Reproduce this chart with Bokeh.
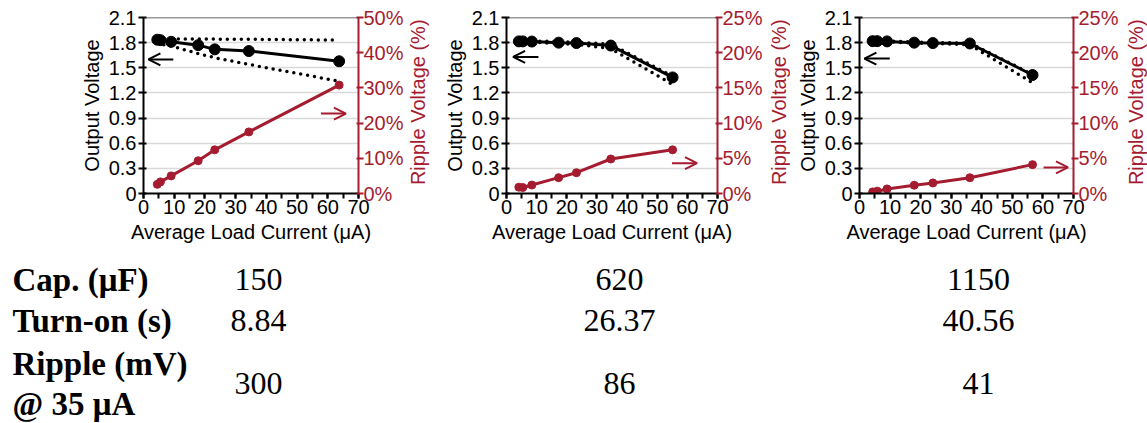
import math
from bokeh.plotting import figure
from bokeh.models import (Range1d, LinearAxis, FixedTicker, PrintfTickFormatter,
                          Arrow, OpenHead, Span)
from bokeh.layouts import column, row
from bokeh.embed import file_html
from bokeh.resources import INLINE
from bokeh.core.properties import value

RED = "#a51c30"
FONT = "Liberation Sans"
SERIF = "Liberation Serif"

# ---------------- data ----------------
v_ticks = [0, 0.3, 0.6, 0.9, 1.2, 1.5, 1.8, 2.1]
x_ticks = [0, 10, 20, 30, 40, 50, 60, 70]
x_minor = [0, 5, 10, 15, 20, 25, 30, 35, 40, 45, 50, 55, 60, 65, 70]

# 150 uF
current_150 = [4.5, 5.5, 9.0, 17.8, 23.2, 34.3, 63.7]
vout_150 = [1.835, 1.83, 1.81, 1.77, 1.72, 1.70, 1.578]
vmax_150 = [1.85, 1.848, 1.845, 1.843, 1.842, 1.84, 1.83]
vmin_150 = [1.80, 1.78, 1.76, 1.67, 1.62, 1.54, 1.34]
ripple_150 = [2.6, 3.3, 5.0, 9.3, 12.4, 17.5, 30.8]
rticks_150 = [0, 10, 20, 30, 40, 50]

# 620 uF
current_620 = [4.1, 5.4, 8.4, 17.3, 23.2, 34.6, 55.1]
vout_620 = [1.815, 1.815, 1.813, 1.800, 1.795, 1.765, 1.385]
vmax_620 = [1.822, 1.822, 1.82, 1.812, 1.806, 1.78, 1.40]
vmin_620 = [1.808, 1.808, 1.805, 1.79, 1.78, 1.73, 1.30]
ripple_620 = [0.9, 0.85, 1.2, 2.25, 2.95, 4.9, 6.2]
rticks_620 = [0, 5, 10, 15, 20, 25]

# 1150 uF
current_1150 = [4.3, 5.8, 9.0, 17.9, 24.0, 36.1, 56.6]
vout_1150 = [1.818, 1.818, 1.815, 1.80, 1.795, 1.79, 1.414]
vmax_1150 = [1.822, 1.822, 1.82, 1.808, 1.80, 1.795, 1.42]
vmin_1150 = [1.814, 1.814, 1.81, 1.795, 1.79, 1.775, 1.32]
ripple_1150 = [0.23, 0.33, 0.65, 1.17, 1.5, 2.24, 4.1]
rticks_1150 = [0, 5, 10, 15, 20, 25]

# arrow annotations: (x_from, x_to, y)
varrow_150 = (9.7, 1.6, 1.60)
rarrow_150 = (57.8, 65.9, 22.7)
varrow_620 = (10.6, 2.2, 1.63)
rarrow_620 = (54.9, 63.2, 4.3)
varrow_1150 = (9.9, 1.6, 1.61)
rarrow_1150 = (60.2, 68.2, 3.7)

y_label = "Output Voltage"
x_label = "Average Load Current (\u03bcA)"
r_label = "Ripple Voltage (%)"

# table
row_labels = ["Cap. (\u03bcF)", "Turn-on (s)", "Ripple (mV)", "@ 35 \u03bcA"]
cap_values = ["150", "620", "1150"]
turnon_values = ["8.84", "26.37", "40.56"]
ripple_mv_values = ["300", "86", "41"]

TICK_SIZE = "20px"
PANEL_H = 245


def make_panel(x, v, vmax, vmin, r, rticks, varrow, rarrow, width, left, right):
    p = figure(width=width, height=PANEL_H, x_range=Range1d(0, 70), y_range=Range1d(0, 2.1),
               output_backend="svg", toolbar_location=None, title=None,
               min_border_left=left, min_border_right=right,
               min_border_top=17, min_border_bottom=0)
    p.outline_line_color = None
    p.background_fill_color = "white"
    p.border_fill_color = "white"
    p.xgrid.grid_line_color = None
    p.ygrid.grid_line_color = "#d9d9d9"
    p.ygrid.grid_line_width = 1.5
    p.ygrid.ticker = FixedTicker(ticks=v_ticks)
    p.add_layout(Span(location=v_ticks[-1], dimension="width", line_color="#333333",
                      line_width=1.5))

    p.extra_y_ranges = {"ripple": Range1d(0, rticks[-1])}

    ya = p.yaxis[0]
    ya.ticker = FixedTicker(ticks=v_ticks)
    ya.major_label_overrides = {0: "0"}
    ya.axis_label = y_label
    ya.minor_tick_line_color = None
    ya.major_tick_in = 3
    ya.major_tick_out = 5
    ya.major_label_standoff = 2
    ya.axis_label_standoff = 3

    xa = p.xaxis[0]
    xa.ticker = FixedTicker(ticks=x_ticks, minor_ticks=x_minor)
    xa.axis_label = x_label
    xa.major_tick_in = 0
    xa.major_tick_out = 5
    xa.minor_tick_in = 0
    xa.minor_tick_out = 5
    xa.major_label_standoff = 1
    xa.axis_label_standoff = 4

    ra = LinearAxis(y_range_name="ripple", ticker=FixedTicker(ticks=rticks),
                    formatter=PrintfTickFormatter(format="%d%%"))
    ra.minor_tick_line_color = None
    ra.major_tick_in = 2
    ra.major_tick_out = 5
    ra.major_label_standoff = 0
    ra.axis_line_color = RED
    ra.major_tick_line_color = RED
    ra.major_label_text_color = RED
    p.add_layout(ra, "right")

    for ax in (ya, xa, ra):
        ax.axis_line_width = 2
        ax.major_tick_line_width = 2
        ax.minor_tick_line_width = 2
        ax.major_label_text_font = FONT
        ax.major_label_text_font_size = TICK_SIZE
        ax.axis_label_text_font = FONT
        ax.axis_label_text_font_size = TICK_SIZE
        ax.axis_label_text_font_style = "normal"
    for ax in (ya, xa):
        ax.axis_line_color = "black"
        ax.major_tick_line_color = "black"
        ax.major_label_text_color = "black"
        ax.axis_label_text_color = "black"
    xa.minor_tick_line_color = "black"

    # voltage envelope (dotted)
    for yy in (vmax, vmin):
        p.line(x, yy, line_color="black", line_width=3.5, line_dash="0 7", line_cap="round")
    # average voltage
    p.line(x, v, line_color="black", line_width=3)
    p.scatter(x, v, size=11, fill_color="black", line_color="black")
    # ripple
    p.line(x, r, line_color=RED, line_width=3, y_range_name="ripple")
    p.scatter(x, r, size=8, fill_color=RED, line_color=RED, y_range_name="ripple")

    p.add_layout(Arrow(x_start=varrow[0], x_end=varrow[1], y_start=varrow[2], y_end=varrow[2],
                       line_color="black", line_width=2,
                       end=OpenHead(size=12, line_width=2, line_color="black")))
    p.add_layout(Arrow(x_start=rarrow[0], x_end=rarrow[1], y_start=rarrow[2], y_end=rarrow[2],
                       line_color=RED, line_width=2, y_range_name="ripple",
                       end=OpenHead(size=12, line_width=2, line_color=RED)))
    return p


def right_title(width, cx):
    """Narrow strip holding the right-axis title, reading bottom-to-top."""
    f = figure(width=width, height=PANEL_H, x_range=Range1d(0, width),
               y_range=Range1d(PANEL_H, 0), output_backend="svg", toolbar_location=None,
               x_axis_type=None, y_axis_type=None, title=None, min_border=0)
    f.outline_line_color = None
    f.grid.grid_line_color = None
    f.text([cx], [118], text=[r_label], angle=math.pi / 2, text_align="center",
           text_baseline="middle", text_font=value(FONT), text_font_size=TICK_SIZE,
           text_color=RED)
    return f


p1 = make_panel(current_150, vout_150, vmax_150, vmin_150, ripple_150, rticks_150,
                varrow_150, rarrow_150, 406, 143, 46)
r1 = right_title(34, 11)
p2 = make_panel(current_620, vout_620, vmax_620, vmin_620, ripple_620, rticks_620,
                varrow_620, rarrow_620, 325, 63, 45)
r2 = right_title(25, 13)
p3 = make_panel(current_1150, vout_1150, vmax_1150, vmin_1150, ripple_1150, rticks_1150,
                varrow_1150, rarrow_1150, 331, 69, 45)
r3 = right_title(26, 14)

# ---------------- table ----------------
t = figure(width=1147, height=178, x_range=Range1d(0, 1147), y_range=Range1d(423, 245),
           output_backend="svg", toolbar_location=None, x_axis_type=None, y_axis_type=None,
           title=None, min_border=0)
t.outline_line_color = None
t.grid.grid_line_color = None

label_x = [12] * len(row_labels)
label_y = [279, 320, 363, 403]
t.text(label_x, label_y, text=row_labels, text_font=value(SERIF), text_font_style="bold",
       text_font_size="33px", text_align="left", text_baseline="alphabetic", text_color="black")

col_x = [258, 619, 978]
for vals, yy in ((cap_values, 279), (turnon_values, 320), (ripple_mv_values, 383)):
    t.text(col_x, [yy] * len(vals), text=vals, text_font=value(SERIF),
           text_font_size="32px", text_align="center", text_baseline="alphabetic",
           text_color="black")

layout = column(row(p1, r1, p2, r2, p3, r3, spacing=0), t, spacing=0)
open("out.html", "w").write(file_html(layout, INLINE))
